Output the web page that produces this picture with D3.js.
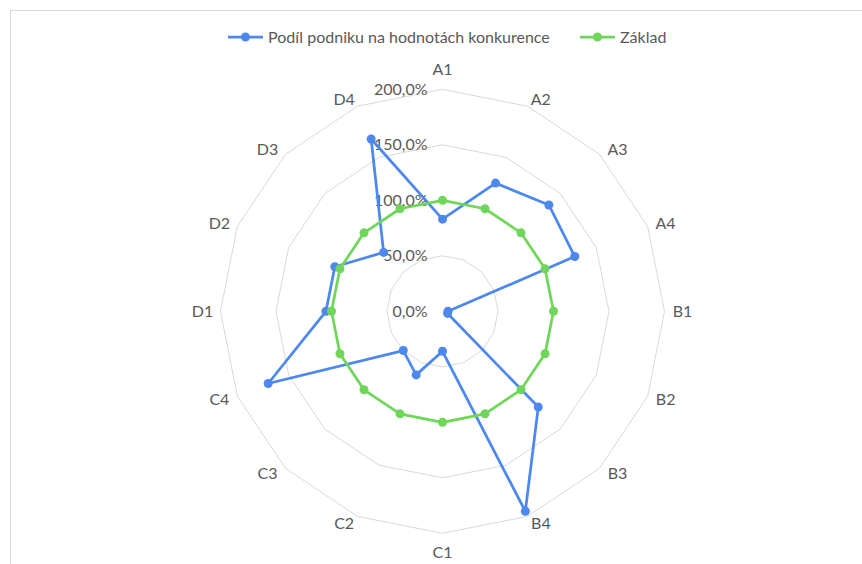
<!DOCTYPE html>
<html>
<head>
<meta charset="utf-8">
<script src="https://cdn.jsdelivr.net/npm/d3@7"></script>
<style>
  html, body { margin: 0; padding: 0; background: #fff; }
  svg { display: block; }
  text { font-family: Lato, "Open Sans", sans-serif; fill: #595959; }
</style>
</head>
<body>
<svg id="chart" width="862" height="564"></svg>
<script>
// Criteria around the radar, clockwise from the top
const categories = ["A1","A2","A3","A4","B1","B2","B3","B4","C1","C2","C3","C4","D1","D2","D3","D4"];
// Share of the company on competitor values (fractions)
const podilValues = [0.83, 1.25, 1.355, 1.29, 0.05, 0.05, 1.22, 1.95, 0.36, 0.62, 0.50, 1.70, 1.05, 1.05, 0.75, 1.68];
// Baseline
const zakladValues = [1,1,1,1,1,1,1,1,1,1,1,1,1,1,1,1];
// Radial tick values
const radialTicks = [0, 0.5, 1.0, 1.5, 2.0];
const seriesNames = ["Podíl podniku na hodnotách konkurence", "Základ"];
const seriesColors = ["#4C88EE", "#6FD65A"];

const svg = d3.select("#chart");
const cx = 442.5, cy = 311.3, R = 222;
const fontSize = 16;

// chart area frame
svg.append("rect")
  .attr("x", 10.5).attr("y", 10.5)
  .attr("width", 900).attr("height", 600)
  .attr("fill", "#fff").attr("stroke", "#d9d9d9").attr("stroke-width", 1);

const r = d3.scaleLinear().domain([0, 2]).range([0, R]);
const angle = d3.scaleLinear().domain([0, categories.length]).range([0, 2 * Math.PI]);

const pt = (i, v) => {
  const a = angle(i);
  return [cx + r(v) * Math.sin(a), cy - r(v) * Math.cos(a)];
};

// ring gridlines
const g = svg.append("g");
radialTicks.filter(t => t > 0).forEach(t => {
  const pts = categories.map((c, i) => pt(i, t));
  g.append("polygon")
    .attr("points", pts.map(p => p.join(",")).join(" "))
    .attr("fill", "none")
    .attr("stroke", "#d9d9d9")
    .attr("stroke-width", 1);
});

// radial tick labels
const fmt = v => d3.format(".1f")(v * 100).replace(".", ",") + "%";
g.selectAll("text.tick").data(radialTicks).enter().append("text")
  .attr("class", "tick")
  .attr("x", cx - 15)
  .attr("y", d => cy - r(d))
  .attr("dy", "0.35em")
  .attr("text-anchor", "end")
  .attr("font-size", fontSize)
  .text(fmt);

// category labels
g.selectAll("text.cat").data(categories).enter().append("text")
  .attr("class", "cat")
  .attr("font-size", fontSize)
  .attr("text-anchor", "middle")
  .attr("dy", "0.35em")
  .each(function(d, i) {
    const a = angle(i);
    const s = Math.sin(a), c = Math.cos(a);
    const [vx, vy] = pt(i, 2);
    const dx = Math.abs(s) < 0.01 ? 0 : Math.sign(s) * Math.min(18, 35 * Math.abs(s));
    const dy = -c * (Math.abs(s) < 0.01 ? 19.5 : 7.5);
    d3.select(this).attr("x", vx + dx).attr("y", vy + dy);
  })
  .text(d => d);

// series
const line = d3.line().curve(d3.curveLinearClosed);
[podilValues, zakladValues].forEach((vals, si) => {
  const pts = vals.map((v, i) => pt(i, v));
  svg.append("path")
    .attr("d", line(pts))
    .attr("fill", "none")
    .attr("stroke", seriesColors[si])
    .attr("stroke-width", 2.75)
    .attr("stroke-linejoin", "round");
  svg.append("g").selectAll("circle").data(pts).enter().append("circle")
    .attr("cx", p => p[0]).attr("cy", p => p[1])
    .attr("r", 4.5)
    .attr("fill", seriesColors[si]);
});

// legend
const legendItems = [
  { name: seriesNames[0], color: seriesColors[0], x: 228 },
  { name: seriesNames[1], color: seriesColors[1], x: 580 }
];
const lg = svg.append("g");
legendItems.forEach(it => {
  lg.append("line")
    .attr("x1", it.x).attr("x2", it.x + 35)
    .attr("y1", 37).attr("y2", 37)
    .attr("stroke", it.color).attr("stroke-width", 2.75);
  lg.append("circle")
    .attr("cx", it.x + 17.5).attr("cy", 37).attr("r", 4.5)
    .attr("fill", it.color);
  lg.append("text")
    .attr("x", it.x + 40).attr("y", 37).attr("dy", "0.35em")
    .attr("font-size", fontSize)
    .text(it.name);
});
</script>
</body>
</html>
